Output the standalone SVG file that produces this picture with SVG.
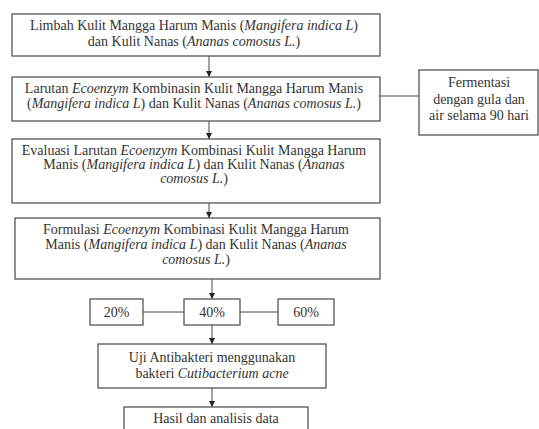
<svg xmlns="http://www.w3.org/2000/svg" width="539" height="429" viewBox="0 0 539 429">
<defs>
<marker id="ah" viewBox="0 0 6 6" refX="6" refY="3" markerWidth="6" markerHeight="6" markerUnits="userSpaceOnUse" orient="auto">
<path d="M0,0 L6,3 L0,6 Z" fill="#222"/>
</marker>
<style>
.box{fill:#fff;stroke:#555;stroke-width:1.3}
.t{font-family:"Liberation Serif","Times New Roman",serif;font-size:14px;fill:#333;text-anchor:middle}
.i{font-style:italic}
.c{stroke:#444;stroke-width:1;fill:none}
.a{stroke:#444;stroke-width:1;fill:none;marker-end:url(#ah)}
</style>
</defs>
<rect width="539" height="429" fill="#fff"/>
<g id="connectors">
<line class="a" x1="209" y1="56" x2="209" y2="77"/>
<line class="a" x1="209" y1="121" x2="209" y2="139"/>
<line class="a" x1="209" y1="203" x2="209" y2="218"/>
<line class="a" x1="212" y1="279" x2="212" y2="299"/>
<line class="a" x1="212" y1="325" x2="212" y2="344"/>
<line class="a" x1="212" y1="388" x2="212" y2="407"/>
<line class="c" x1="380" y1="96" x2="419" y2="96"/>
<line class="c" x1="143" y1="312" x2="184" y2="312"/>
<line class="c" x1="240" y1="312" x2="278" y2="312"/>
</g>
<g id="n1">
<rect class="box" x="12" y="14" width="368" height="42"/>
<text class="t" x="194" y="30">Limbah Kulit Mangga Harum Manis (<tspan class="i">Mangifera indica L</tspan>)</text>
<text class="t" x="194" y="46">dan Kulit Nanas (<tspan class="i">Ananas comosus L.</tspan>)</text>
</g>
<g id="n2">
<rect class="box" x="12" y="77" width="368" height="44"/>
<text class="t" x="194" y="93">Larutan <tspan class="i">Ecoenzym</tspan> Kombinasin Kulit Mangga Harum Manis</text>
<text class="t" x="194" y="108">(<tspan class="i">Mangifera indica L</tspan>) dan Kulit Nanas (<tspan class="i">Ananas comosus L.</tspan>)</text>
</g>
<g id="side">
<rect class="box" x="419" y="70" width="119" height="65"/>
<text class="t" x="479" y="87">Fermentasi</text>
<text class="t" x="479" y="104">dengan gula dan</text>
<text class="t" x="479" y="120">air selama 90 hari</text>
</g>
<g id="n3">
<rect class="box" x="12" y="139" width="368" height="64"/>
<text class="t" x="194" y="155">Evaluasi Larutan <tspan class="i">Ecoenzym</tspan> Kombinasi Kulit Mangga Harum</text>
<text class="t" x="194" y="169">Manis (<tspan class="i">Mangifera indica L</tspan>) dan Kulit Nanas (<tspan class="i">Ananas</tspan></text>
<text class="t" x="194" y="183"><tspan class="i">comosus L.</tspan>)</text>
</g>
<g id="n4">
<rect class="box" x="15" y="218" width="365" height="61"/>
<text class="t" x="196" y="234">Formulasi <tspan class="i">Ecoenzym</tspan> Kombinasi Kulit Mangga Harum</text>
<text class="t" x="196" y="249">Manis (<tspan class="i">Mangifera indica L</tspan>) dan Kulit Nanas (<tspan class="i">Ananas</tspan></text>
<text class="t" x="196" y="264"><tspan class="i">comosus L.</tspan>)</text>
</g>
<g id="p20">
<rect class="box" x="90" y="299" width="53" height="26"/>
<text class="t" x="116.5" y="317">20%</text>
</g>
<g id="p40">
<rect class="box" x="184" y="299" width="56" height="26"/>
<text class="t" x="212" y="317">40%</text>
</g>
<g id="p60">
<rect class="box" x="278" y="299" width="56" height="26"/>
<text class="t" x="306" y="317">60%</text>
</g>
<g id="n5">
<rect class="box" x="98" y="344" width="228" height="44"/>
<text class="t" x="212" y="362">Uji Antibakteri menggunakan</text>
<text class="t" x="212" y="378">bakteri <tspan class="i">Cutibacterium acne</tspan></text>
</g>
<g id="n6">
<rect class="box" x="124" y="407" width="184" height="40"/>
<text class="t" x="216" y="423">Hasil dan analisis data</text>
</g>
</svg>
